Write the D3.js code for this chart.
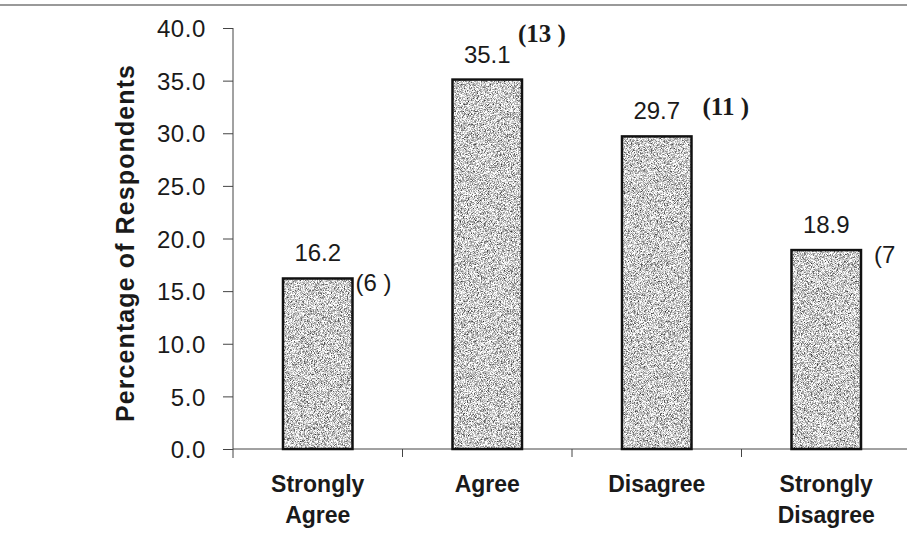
<!DOCTYPE html>
<html>
<head>
<meta charset="utf-8">
<script src="https://cdn.jsdelivr.net/npm/d3@7"></script>
<style>
  body { margin: 0; background: #fff; }
  svg { display: block; }
</style>
</head>
<body>
<div id="chart"></div>
<script>
var w = 907;
var h = 536;

// data
var categories = [["Strongly", "Agree"], ["Agree"], ["Disagree"], ["Strongly", "Disagree"]];
var percents = [16.2, 35.1, 29.7, 18.9];
var counts = ["(6 )", "(13 )", "(11 )", "(7"];
var yTicks = [0, 5, 10, 15, 20, 25, 30, 35, 40];

var catKeys = categories.map(c => c.join(" "));

var svg = d3.select("#chart").append("svg")
    .attr("width", w)
    .attr("height", h);

// stippled grey fill, like the scanned bars
var defs = svg.append("defs");
var f = defs.append("filter")
    .attr("id", "stipple")
    .attr("x", 0).attr("y", 0).attr("width", 1).attr("height", 1)
    .attr("color-interpolation-filters", "sRGB");
f.append("feTurbulence")
    .attr("type", "fractalNoise")
    .attr("baseFrequency", 1.3)
    .attr("numOctaves", 2)
    .attr("seed", 3)
    .attr("result", "noise");
f.append("feColorMatrix")
    .attr("in", "noise")
    .attr("type", "matrix")
    .attr("values", "1.8 0 0 0 -0.1  1.8 0 0 0 -0.1  1.8 0 0 0 -0.1  0 0 0 0 1")
    .attr("result", "grey");
f.append("feComposite")
    .attr("in", "grey")
    .attr("in2", "SourceGraphic")
    .attr("operator", "in");

// frame line at the top of the scan
svg.append("line")
    .attr("x1", 0).attr("x2", w)
    .attr("y1", 5).attr("y2", 5)
    .attr("stroke", "#777")
    .attr("stroke-width", 1.5);

var x = d3.scaleBand().domain(catKeys).range([233, 911]).padding(0);
var y = d3.scaleLinear().domain([0, 40]).range([449, 28]);
var barW = x.bandwidth() * 0.41;

// y axis
var yAxis = svg.append("g")
    .attr("transform", "translate(233,0)")
    .call(d3.axisLeft(y).tickValues(yTicks).tickSize(10).tickPadding(17).tickFormat(d3.format(".1f")));
yAxis.select(".domain").attr("stroke", "#444").attr("d", "M0,28V458");
yAxis.selectAll(".tick line").attr("stroke", "#444");
yAxis.selectAll(".tick text")
    .attr("fill", "#1a1a1a")
    .style("font-family", "Arial, 'Liberation Sans', sans-serif")
    .style("font-size", "24px")
    .style("letter-spacing", "0.6px")
    .attr("dy", "0.36em");

// x axis line with ticks between categories
var xAxis = svg.append("g");
xAxis.append("line")
    .attr("x1", 233).attr("x2", w)
    .attr("y1", y(0)).attr("y2", y(0))
    .attr("stroke", "#444");
xAxis.selectAll(".xt")
    .data(catKeys.slice(1))
    .enter().append("line")
    .attr("class", "xt")
    .attr("x1", d => x(d)).attr("x2", d => x(d))
    .attr("y1", y(0)).attr("y2", y(0) + 8)
    .attr("stroke", "#444");

// y axis title
svg.append("text")
    .attr("transform", "translate(134," + ((63 + 423) / 2) + ") rotate(-90)")
    .attr("text-anchor", "middle")
    .style("font-family", "Arial, 'Liberation Sans', sans-serif")
    .style("font-weight", "bold")
    .style("font-size", "25px")
    .style("letter-spacing", "1.1px")
    .attr("fill", "#1a1a1a")
    .text("Percentage of Respondents");

// bars
var bars = svg.append("g");
bars.selectAll("rect.fill")
    .data(percents)
    .enter().append("rect")
    .attr("class", "fill")
    .attr("x", (d, i) => x(catKeys[i]) + (x.bandwidth() - barW) / 2)
    .attr("y", d => y(d))
    .attr("width", barW)
    .attr("height", d => y(0) - y(d))
    .attr("fill", "#ccc")
    .attr("filter", "url(#stipple)");
bars.selectAll("rect.edge")
    .data(percents)
    .enter().append("rect")
    .attr("class", "edge")
    .attr("x", (d, i) => x(catKeys[i]) + (x.bandwidth() - barW) / 2)
    .attr("y", d => y(d))
    .attr("width", barW)
    .attr("height", d => y(0) - y(d))
    .attr("fill", "none")
    .attr("stroke", "#111")
    .attr("stroke-width", 2.5);

// value labels
svg.selectAll("text.val")
    .data(percents)
    .enter().append("text")
    .attr("class", "val")
    .attr("x", (d, i) => x(catKeys[i]) + x.bandwidth() / 2)
    .attr("y", d => y(d) - 17)
    .attr("text-anchor", "middle")
    .style("font-family", "Arial, 'Liberation Sans', sans-serif")
    .style("font-size", "24px")
    .attr("fill", "#1a1a1a")
    .text(d => d.toFixed(1));

// respondent counts, hand-placed in the original
var countLook = [
    { dx: 3, dy: 13, serif: false, size: 24 },
    { dx: -4, dy: -38, serif: true, size: 25 },
    { dx: 11, dy: -21, serif: true, size: 25 },
    { dx: 13, dy: 13, serif: false, size: 24 }
];
svg.selectAll("text.cnt")
    .data(counts)
    .enter().append("text")
    .attr("class", "cnt")
    .attr("x", (d, i) => x(catKeys[i]) + (x.bandwidth() + barW) / 2 + countLook[i].dx)
    .attr("y", (d, i) => y(percents[i]) + countLook[i].dy)
    .style("font-family", (d, i) => countLook[i].serif ? "'Liberation Serif', 'Times New Roman', serif" : "Arial, 'Liberation Sans', sans-serif")
    .style("font-weight", (d, i) => countLook[i].serif ? "bold" : "normal")
    .style("font-size", (d, i) => countLook[i].size + "px")
    .style("white-space", "pre")
    .attr("fill", "#1a1a1a")
    .text(d => d);

// category labels
var cats = svg.selectAll("text.cat")
    .data(categories)
    .enter().append("text")
    .attr("class", "cat")
    .attr("x", (d, i) => x(catKeys[i]) + x.bandwidth() / 2)
    .attr("y", 492)
    .attr("text-anchor", "middle")
    .style("font-family", "Arial, 'Liberation Sans', sans-serif")
    .style("font-weight", "bold")
    .style("font-size", "23px")
    .attr("fill", "#1a1a1a");
cats.selectAll("tspan")
    .data((d, i) => d.map(t => ({ t: t, i: i })))
    .enter().append("tspan")
    .attr("x", d => x(catKeys[d.i]) + x.bandwidth() / 2)
    .attr("dy", (d, j) => j === 0 ? 0 : 31)
    .text(d => d.t);
</script>
</body>
</html>
